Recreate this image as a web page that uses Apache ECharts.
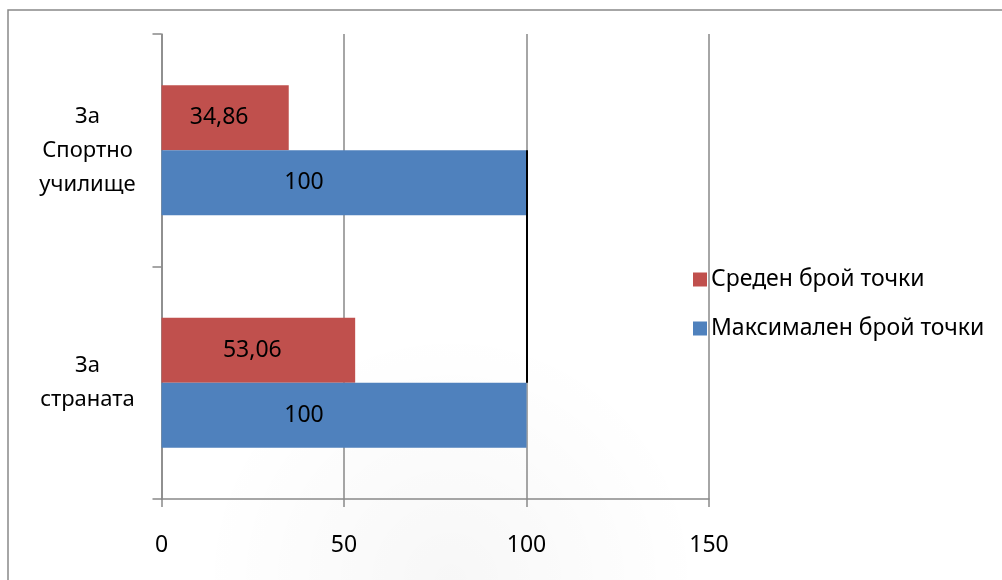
<!DOCTYPE html>
<html>
<head>
<meta charset="utf-8">
<script src="https://cdn.jsdelivr.net/npm/echarts@6/dist/echarts.min.js"></script>
<style>
html,body{margin:0;padding:0;background:#fff;}
#chart{width:1002px;height:580px;}
</style>
</head>
<body>
<div id="chart"></div>
<script>
const categories = ['За\nстраната', 'За\nСпортно\nучилище'];
const seriesNames = ['Среден брой точки', 'Максимален брой точки'];
const averageValues = [53.06, 34.86];
const maximumValues = [100, 100];
const xTicks = { min: 0, max: 150, interval: 50 };

const FONT = '"Noto Sans", "Liberation Sans", sans-serif';
const fmt = v => String(v).replace('.', ',');
const gray = '#898989';

const chart = echarts.init(document.getElementById('chart'));
chart.setOption({
  animation: false,
  backgroundColor: '#fff',
  textStyle: { fontFamily: FONT },
  graphic: [
    {
      type: 'rect', z: -10, silent: true,
      shape: { x: 0, y: 300, width: 1002, height: 280 },
      style: {
        fill: {
          type: 'radial', x: 0.45, y: 1, r: 0.9,
          colorStops: [{ offset: 0, color: 'rgba(0,0,0,0.03)' }, { offset: 1, color: 'rgba(0,0,0,0)' }]
        }
      }
    },
    {
      type: 'rect', z: 10, silent: true,
      shape: { x: 8, y: 10, width: 1200, height: 800 },
      style: { fill: 'none', stroke: gray, lineWidth: 1.5 }
    }
  ],
  grid: { left: 161.5, right: 293, top: 34, bottom: 81, containLabel: false },
  legend: {
    orient: 'vertical',
    left: 688, top: 263,
    itemWidth: 14, itemHeight: 14, itemGap: 26,
    icon: 'rect',
    data: seriesNames,
    textStyle: { fontFamily: FONT, fontSize: 23, color: '#000', padding: [0, 0, 0, -1] }
  },
  xAxis: {
    type: 'value',
    min: xTicks.min, max: xTicks.max, interval: xTicks.interval,
    axisLine: { show: true, lineStyle: { color: gray, width: 1.5 } },
    axisTick: { show: true, length: 8, lineStyle: { color: gray, width: 1.5 } },
    splitLine: { show: true, lineStyle: { color: gray, width: 1.5 } },
    axisLabel: { fontFamily: FONT, fontSize: 23, color: '#000', margin: 35 }
  },
  yAxis: {
    type: 'category',
    data: categories,
    axisLine: { show: true, lineStyle: { color: gray, width: 1.5 } },
    axisTick: { show: true, length: 9, lineStyle: { color: gray, width: 1.5 } },
    axisLabel: { fontFamily: FONT, fontSize: 22, color: '#000', align: 'center', margin: 74, lineHeight: 34 }
  },
  series: [
    {
      name: seriesNames[0], type: 'bar',
      data: averageValues,
      barGap: '0%', barCategoryGap: '44%',
      itemStyle: { color: '#C0504D' },
      label: { show: true, position: 'inside', offset: [-6, 0], fontFamily: FONT, fontSize: 23, color: '#000', formatter: p => fmt(p.value) }
    },
    {
      name: seriesNames[1], type: 'bar',
      data: maximumValues,
      barGap: '0%', barCategoryGap: '44%',
      itemStyle: { color: '#4F81BD' },
      label: { show: true, position: 'inside', offset: [-40, 0], fontFamily: FONT, fontSize: 23, color: '#000', formatter: p => fmt(p.value) }
    },
    {
      type: 'line', data: [], silent: true,
      markLine: {
        silent: true, symbol: 'none', animation: false,
        label: { show: false },
        lineStyle: { color: '#000', width: 2, type: 'solid' },
        data: [[{ coord: [maximumValues[1], categories[1]] }, { coord: [maximumValues[0], categories[0]] }]]
      }
    }
  ]
});
</script>
</body>
</html>
